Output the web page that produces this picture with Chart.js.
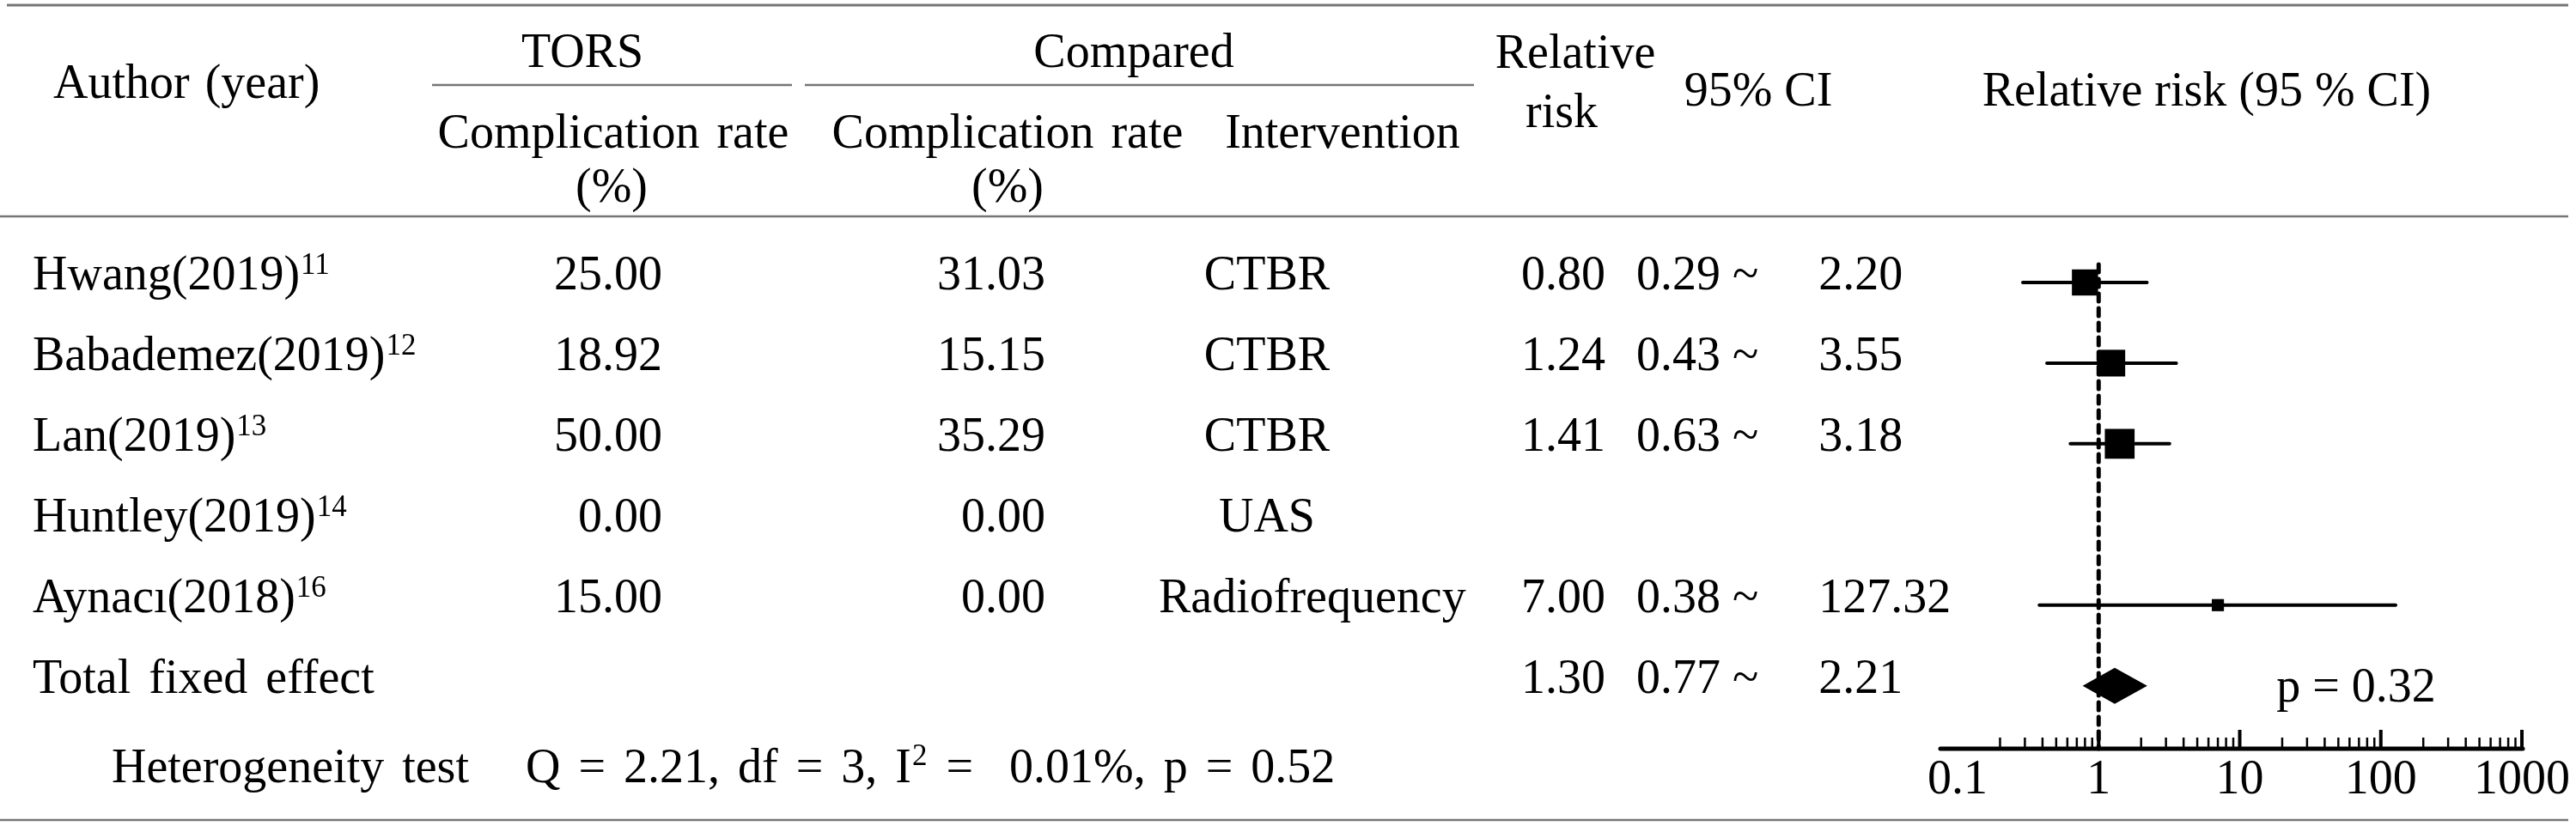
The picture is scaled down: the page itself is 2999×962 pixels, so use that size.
<!DOCTYPE html>
<html>
<head>
<meta charset="utf-8">
<script src="https://cdn.jsdelivr.net/npm/chart.js@4.4.1/dist/chart.umd.min.js"></script>
<style>
html,body{margin:0;padding:0;background:#fff;overflow:hidden;}
#wrap{width:2999px;height:962px;position:relative;}
</style>
</head>
<body>
<div id="wrap"><canvas id="c" width="2999" height="962"></canvas></div>
<script>
// ---------------- data ----------------
const authors = ['Hwang(2019)', 'Babademez(2019)', 'Lan(2019)', 'Huntley(2019)', 'Aynacı(2018)'];
const refs = ['11', '12', '13', '14', '16'];
const torsRate = ['25.00', '18.92', '50.00', '0.00', '15.00'];
const compRate = ['31.03', '15.15', '35.29', '0.00', '0.00'];
const interventions = ['CTBR', 'CTBR', 'CTBR', 'UAS', 'Radiofrequency'];
const relRisk = [0.80, 1.24, 1.41, null, 7.00];
const ciLow = [0.29, 0.43, 0.63, null, 0.38];
const ciHigh = [2.20, 3.55, 3.18, null, 127.32];
const totalLabel = 'Total fixed effect';
const totalRR = [1.30];
const totalLow = [0.77];
const totalHigh = [2.21];
const totalP = 'p = 0.32';
const hetLabel = 'Heterogeneity test';
const hetQ = '2.21', hetDf = '3', hetI2 = '0.01%', hetP = '0.52';
const xTickValues = [0.1, 1, 10, 100, 1000];
const minorTickValues = [];
for (let d = -1; d <= 2; d++) for (let k = 2; k <= 9; k++) minorTickValues.push(k * Math.pow(10, d));

// ---------------- styling ----------------
const FONT = '"Liberation Serif", "Times New Roman", serif';
const FS = 56;
const SUP = 35;
const RULE = '#767676';

const ciData = [];
relRisk.forEach((v, i) => {
  if (ciLow[i] == null) return;
  ciData.push({x: ciLow[i], y: i}, {x: ciHigh[i], y: i}, {x: NaN, y: NaN});
});
const pointData = [];
const pointSizes = [21.5, 22, 24.5, 0, 10];
const radii = [];
relRisk.forEach((v, i) => {
  if (v == null) return;
  pointData.push({x: v, y: i});
  radii.push(pointSizes[i]);
});
const totalRow = authors.length;

// text with optional extra word spacing; returns drawn width
function measure(ctx, s, size, extra) {
  ctx.font = (size || FS) + 'px ' + FONT;
  const n = (s.match(/ /g) || []).length;
  return ctx.measureText(s).width + n * (extra || 0);
}
function txt(ctx, s, x, y, align, size, extra) {
  extra = extra || 0;
  ctx.font = (size || FS) + 'px ' + FONT;
  ctx.textBaseline = 'alphabetic';
  ctx.fillStyle = '#000';
  const w = measure(ctx, s, size, extra);
  let x0 = x;
  if (align === 'center') x0 = x - w / 2;
  else if (align === 'right') x0 = x - w;
  ctx.textAlign = 'left';
  if (!extra) { ctx.fillText(s, x0, y); return w; }
  const parts = s.split(' ');
  const sp = ctx.measureText(' ').width + extra;
  let cx = x0;
  parts.forEach((p, k) => {
    if (p.length) { ctx.fillText(p, cx, y); cx += ctx.measureText(p).width; }
    if (k < parts.length - 1) cx += sp;
  });
  return w;
}
function hline(ctx, x1, x2, y, w) {
  ctx.save();
  ctx.strokeStyle = RULE;
  ctx.lineWidth = w || 2.5;
  ctx.beginPath(); ctx.moveTo(x1, y); ctx.lineTo(x2, y); ctx.stroke();
  ctx.restore();
}
const SPX = 7;
function ciText(lo, hi) { return lo.toFixed(2) + ' ~     ' + hi.toFixed(2); }

const tablePlugin = {
  id: 'tablePlugin',
  beforeDatasetsDraw(chart) {
    const ctx = chart.ctx;
    const xs = chart.scales.x;
    const area = chart.chartArea;
    ctx.save();
    // dashed reference line at RR = 1
    const x1 = xs.getPixelForValue(1);
    ctx.strokeStyle = '#000';
    ctx.lineWidth = 5;
    ctx.lineCap = 'round';
    ctx.setLineDash([9, 8]);
    ctx.beginPath();
    ctx.moveTo(x1, area.top + 26);
    ctx.lineTo(x1, area.bottom);
    ctx.stroke();
    ctx.setLineDash([]);
    // axis line
    ctx.lineWidth = 5;
    ctx.beginPath();
    ctx.moveTo(area.left + 2, area.bottom);
    ctx.lineTo(xs.getPixelForValue(1000) + 1, area.bottom);
    ctx.stroke();
    ctx.lineCap = 'butt';
    // major ticks
    ctx.lineWidth = 4;
    [1, 10, 100, 1000].forEach(v => {
      const px = xs.getPixelForValue(v);
      ctx.beginPath(); ctx.moveTo(px, area.bottom); ctx.lineTo(px, area.bottom - 22); ctx.stroke();
    });
    // minor ticks
    ctx.lineWidth = 2.5;
    minorTickValues.forEach(v => {
      const px = xs.getPixelForValue(v);
      ctx.beginPath(); ctx.moveTo(px, area.bottom); ctx.lineTo(px, area.bottom - 13); ctx.stroke();
    });
    ctx.restore();
  },
  afterDatasetsDraw(chart) {
    const ctx = chart.ctx;
    const xs = chart.scales.x, ys = chart.scales.y;
    ctx.save();
    // diamond for total effect
    const yc = ys.getPixelForValue(totalRow);
    const xl = xs.getPixelForValue(totalLow[0]);
    const xm = xs.getPixelForValue(totalRR[0]);
    const xr = xs.getPixelForValue(totalHigh[0]);
    ctx.fillStyle = '#000';
    ctx.beginPath();
    ctx.moveTo(xl, yc); ctx.lineTo(xm, yc - 21); ctx.lineTo(xr, yc); ctx.lineTo(xm, yc + 21);
    ctx.closePath(); ctx.fill();
    ctx.restore();
  },
  afterDraw(chart) {
    const ctx = chart.ctx;
    const ys = chart.scales.y;
    ctx.save();
    // rules
    hline(ctx, 8, 2990, 6, 3);
    hline(ctx, 503, 922, 99, 2.5);
    hline(ctx, 937, 1716, 99, 2.5);
    hline(ctx, 0, 2990, 252, 2.5);
    hline(ctx, 0, 2990, 955, 2.5);
    // header
    txt(ctx, 'Author (year)', 62, 114, 'left', FS, 4);
    txt(ctx, 'TORS', 678, 78, 'center');
    txt(ctx, 'Compared', 1320, 78, 'center');
    txt(ctx, 'Relative', 1834, 79, 'center');
    txt(ctx, 'risk', 1818, 148, 'center');
    txt(ctx, '95% CI', 2047, 123, 'center');
    txt(ctx, 'Relative risk (95 % CI)', 2569, 123, 'center');
    txt(ctx, 'Complication rate', 714, 172, 'center', FS, 6);
    txt(ctx, '(%)', 712, 235, 'center');
    txt(ctx, 'Complication rate', 1173, 172, 'center', FS, 6);
    txt(ctx, '(%)', 1173, 235, 'center');
    txt(ctx, 'Intervention', 1563, 172, 'center');
    // rows
    authors.forEach((a, i) => {
      const y = ys.getPixelForValue(i) + 8;
      const w = txt(ctx, a, 38, y);
      txt(ctx, refs[i], 38 + w + 1, y - 18, 'left', SUP);
      txt(ctx, torsRate[i], 771, y, 'right');
      txt(ctx, compRate[i], 1217, y, 'right');
      const iw = measure(ctx, interventions[i], FS, 0);
      if (iw > 300) txt(ctx, interventions[i], 1349, y, 'left');
      else txt(ctx, interventions[i], 1475, y, 'center');
      if (relRisk[i] != null) {
        txt(ctx, relRisk[i].toFixed(2), 1869, y, 'right');
        txt(ctx, ciText(ciLow[i], ciHigh[i]), 1905, y, 'left');
      }
    });
    const yt = ys.getPixelForValue(totalRow) + 8;
    txt(ctx, totalLabel, 38, yt, 'left', FS, SPX);
    txt(ctx, totalRR[0].toFixed(2), 1869, yt, 'right');
    txt(ctx, ciText(totalLow[0], totalHigh[0]), 1905, yt, 'left');
    txt(ctx, totalP, 2743, yt + 10, 'center');
    // heterogeneity
    const yh = 911;
    txt(ctx, hetLabel, 130, yh, 'left', FS, SPX);
    const part1 = 'Q = ' + hetQ + ', df = ' + hetDf + ', I';
    const w1 = txt(ctx, part1, 612, yh, 'left', FS, SPX);
    const w2 = txt(ctx, '2', 612 + w1 + 1, yh - 20, 'left', SUP);
    txt(ctx, ' =  ' + hetI2 + ', p = ' + hetP, 612 + w1 + w2 + 2, yh, 'left', FS, SPX);
    ctx.restore();
  }
};

new Chart(document.getElementById('c'), {
  type: 'scatter',
  data: {
    datasets: [
      {
        label: 'CI',
        data: ciData,
        showLine: true,
        spanGaps: false,
        borderColor: '#000',
        borderWidth: 4,
        borderCapStyle: 'round',
        pointRadius: 0,
        order: 2
      },
      {
        label: 'RR',
        data: pointData,
        pointStyle: 'rect',
        pointRadius: radii,
        pointBackgroundColor: '#000',
        pointBorderWidth: 0,
        showLine: false,
        order: 1
      }
    ]
  },
  options: {
    responsive: false,
    devicePixelRatio: 1,
    animation: false,
    events: [],
    layout: {padding: {left: 2257, right: 61, top: 282, bottom: 14.8}},
    plugins: {legend: {display: false}, tooltip: {enabled: false}},
    scales: {
      x: {
        type: 'logarithmic',
        min: Math.pow(10, -1.134),
        max: Math.pow(10, 3.012),
        afterBuildTicks: (scale) => { scale.ticks = xTickValues.map(v => ({value: v})); },
        grid: {display: false, drawTicks: false},
        border: {display: false},
        ticks: {
          padding: 4,
          color: '#000',
          font: {family: '"Liberation Serif"', size: 56},
          callback: (v) => String(v),
          autoSkip: false,
          maxRotation: 0
        }
      },
      y: {
        type: 'linear',
        reverse: true,
        min: -0.5,
        max: 5.78,
        display: false
      }
    }
  },
  plugins: [tablePlugin]
});
</script>
</body>
</html>
